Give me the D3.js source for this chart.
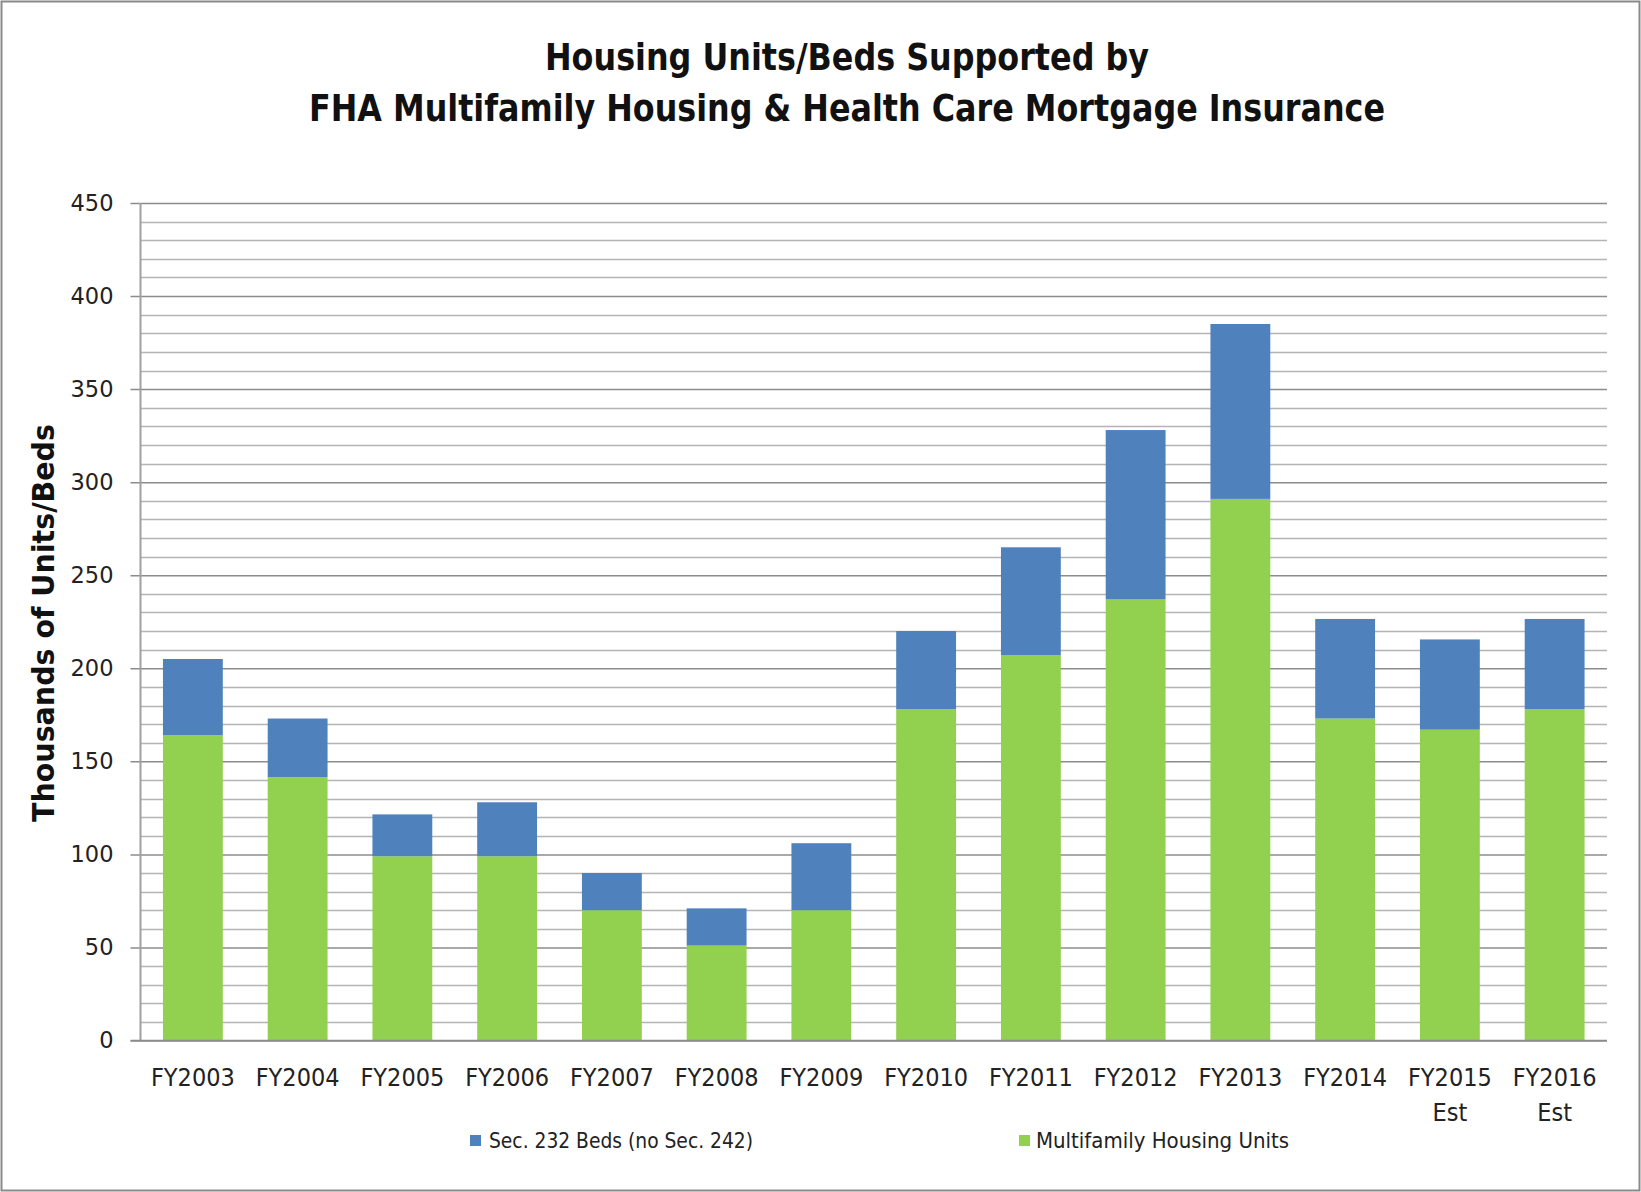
<!DOCTYPE html>
<html><head><meta charset="utf-8">
<script src="https://cdn.jsdelivr.net/npm/d3@7"></script>
<style>
html,body{margin:0;padding:0;background:#fff;}
svg{display:block;}
</style></head>
<body>
<script>
const categories = ["FY2003","FY2004","FY2005","FY2006","FY2007","FY2008","FY2009","FY2010","FY2011","FY2012","FY2013","FY2014","FY2015 Est","FY2016 Est"];
const multifamilyUnits = [164, 141.5, 99, 99, 70, 51, 70, 178, 207, 237, 291, 173, 167, 178];
const sec232Beds = [41, 31.5, 22.5, 29, 20, 20, 36, 42, 58, 91, 94, 53.5, 48.5, 48.5];
const yTicks = [0, 50, 100, 150, 200, 250, 300, 350, 400, 450];
const seriesNames = ["Sec. 232 Beds (no Sec. 242)", "Multifamily Housing Units"];
const titleLines = ["Housing Units/Beds Supported by", "FHA Multifamily Housing & Health Care Mortgage Insurance"];
const yTitle = "Thousands of Units/Beds";

const W = 1641, H = 1192;
const narrow = '"Liberation Sans Narrow","DejaVu Sans Condensed",sans-serif';
const svg = d3.select("body").append("svg").attr("width", W).attr("height", H);

svg.append("rect").attr("x", 1.5).attr("y", 1.5).attr("width", W - 3).attr("height", H - 3)
  .attr("fill", "#fff").attr("stroke", "#8a8a8a").attr("stroke-width", 2);

const m = {left: 140.5, right: 1607, top: 203, bottom: 1040.5};
const x = d3.scaleBand().domain(categories).range([m.left, m.right]).paddingInner(0.4286).paddingOuter(0.2143);
const y = d3.scaleLinear().domain([0, 450]).range([m.bottom, m.top]);

// minor gridlines
const minor = d3.range(0, 451, 10).filter(v => v % 50 !== 0);
svg.append("g").selectAll("line").data(minor).join("line")
  .attr("x1", m.left).attr("x2", m.right)
  .attr("y1", d => Math.round(y(d)) + 0.5).attr("y2", d => Math.round(y(d)) + 0.5)
  .attr("stroke", "#b4b4b4").attr("stroke-width", 1.3);

// major gridlines via axis
const yAxis = d3.axisLeft(y).tickValues(yTicks).tickSize(-(m.right - m.left)).tickFormat(d3.format("d"));
const gy = svg.append("g").attr("transform", `translate(${m.left},0)`).call(yAxis);
gy.select(".domain").remove();
gy.selectAll(".tick line").attr("stroke", "#8c8c8c").attr("stroke-width", 1.5).attr("x1", -10);
gy.selectAll(".tick text").attr("x", -27).attr("font-family", '"DejaVu Sans",sans-serif')
  .attr("font-size", 22.5).attr("fill", "#222");

// y axis line
svg.append("line").attr("x1", m.left).attr("x2", m.left).attr("y1", m.top).attr("y2", m.bottom)
  .attr("stroke", "#a0a0a0").attr("stroke-width", 2);

// stacked bars
const rows = categories.map((c, i) => ({cat: c, green: multifamilyUnits[i], blue: sec232Beds[i]}));
const stack = d3.stack().keys(["green", "blue"])(rows);
const colors = {green: "#92D050", blue: "#4F81BD"};
svg.append("g").selectAll("g").data(stack).join("g").attr("fill", d => colors[d.key])
  .selectAll("rect").data(d => d).join("rect")
  .attr("x", d => x(d.data.cat)).attr("width", x.bandwidth())
  .attr("y", d => y(d[1])).attr("height", d => y(d[0]) - y(d[1]));

// x axis line
svg.append("line").attr("x1", m.left - 10).attr("x2", m.right).attr("y1", m.bottom).attr("y2", m.bottom)
  .attr("stroke", "#8c8c8c").attr("stroke-width", 1.5);

// x labels
const xl = svg.append("g").selectAll("text").data(categories).join("text")
  .attr("text-anchor", "middle").attr("font-family", narrow).attr("font-size", 25).attr("fill", "#222");
xl.each(function(d) {
  const parts = d.split(" ");
  const t = d3.select(this);
  parts.forEach((p, j) => {
    t.append("tspan").attr("x", x(d) + x.bandwidth() / 2).attr("y", 1086 + j * 35).text(p);
  });
});

// titles
svg.append("text").attr("x", 847).attr("y", 70).attr("text-anchor", "middle")
  .attr("font-family", narrow).attr("font-weight", "bold").attr("font-size", 38).attr("fill", "#111")
  .attr("textLength", 604).attr("lengthAdjust", "spacingAndGlyphs").text(titleLines[0]);
svg.append("text").attr("x", 847).attr("y", 121).attr("text-anchor", "middle")
  .attr("font-family", narrow).attr("font-weight", "bold").attr("font-size", 38).attr("fill", "#111")
  .attr("textLength", 1076).attr("lengthAdjust", "spacingAndGlyphs").text(titleLines[1]);

// y title
svg.append("text").attr("transform", "translate(54,623) rotate(-90)").attr("text-anchor", "middle")
  .attr("font-family", narrow).attr("font-weight", "bold").attr("font-size", 31).attr("fill", "#111")
  .attr("textLength", 398).attr("lengthAdjust", "spacingAndGlyphs").text(yTitle);

// legend
const legend = [
  {name: seriesNames[0], color: colors.blue, sx: 470, tx: 489, len: 264},
  {name: seriesNames[1], color: colors.green, sx: 1019, tx: 1036, len: 253}
];
const lg = svg.append("g").selectAll("g").data(legend).join("g");
lg.append("rect").attr("x", d => d.sx).attr("y", 1135).attr("width", 11).attr("height", 11).attr("fill", d => d.color);
lg.append("text").attr("x", d => d.tx).attr("y", 1148).attr("font-family", narrow).attr("font-size", 22)
  .attr("fill", "#222").attr("textLength", d => d.len).attr("lengthAdjust", "spacingAndGlyphs").text(d => d.name);
</script>
</body></html>
